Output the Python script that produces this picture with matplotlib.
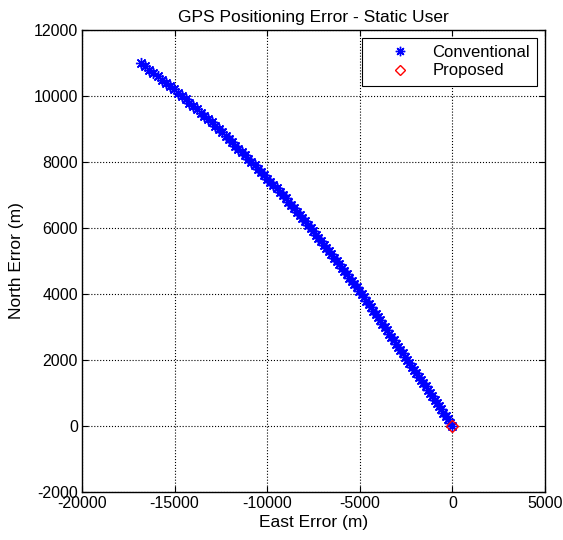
import matplotlib
matplotlib.use('Agg')
import matplotlib.pyplot as plt

plt.rcParams['font.family'] = ['Liberation Sans', 'DejaVu Sans']
plt.rcParams['axes.unicode_minus'] = False

# conventional solution: position error
north_conv = [0, 100, 200, 300, 400, 500, 600, 700, 800, 900,
              1000, 1100, 1200, 1300, 1400, 1500, 1600, 1700, 1800, 1900,
              2000, 2100, 2200, 2300, 2400, 2500, 2600, 2700, 2800, 2900,
              3000, 3100, 3200, 3300, 3400, 3500, 3600, 3700, 3800, 3900,
              4000, 4100, 4200, 4300, 4400, 4500, 4600, 4700, 4800, 4900,
              5000, 5100, 5200, 5300, 5400, 5500, 5600, 5700, 5800, 5900,
              6000, 6100, 6200, 6300, 6400, 6500, 6600, 6700, 6800, 6900,
              7000, 7100, 7200, 7300, 7400, 7500, 7600, 7700, 7800, 7900,
              8000, 8100, 8200, 8300, 8400, 8500, 8600, 8700, 8800, 8900,
              9000, 9100, 9200, 9300, 9400, 9500, 9600, 9700, 9800, 9900,
              10000, 10100, 10200, 10300, 10400, 10500, 10600, 10700, 10800, 10900,
              11000]
east_conv = [0, -120, -240, -360, -480, -600, -720, -840, -960, -1080,
             -1200, -1325, -1450, -1575, -1700, -1825, -1950, -2075, -2200, -2325,
             -2450, -2570, -2690, -2810, -2930, -3050, -3170, -3290, -3410, -3530,
             -3650, -3775, -3900, -4025, -4150, -4275, -4400, -4525, -4650, -4775,
             -4900, -5035, -5170, -5305, -5440, -5575, -5710, -5845, -5980, -6115,
             -6250, -6390, -6530, -6670, -6810, -6950, -7090, -7230, -7370, -7510,
             -7650, -7800, -7950, -8100, -8250, -8400, -8550, -8700, -8850, -9000,
             -9150, -9320, -9490, -9660, -9830, -10000, -10170, -10340, -10510, -10680,
             -10850, -11025, -11200, -11375, -11550, -11725, -11900, -12075, -12250, -12425,
             -12600, -12800, -13000, -13200, -13400, -13600, -13800, -14000, -14200, -14400,
             -14600, -14820, -15040, -15260, -15480, -15700, -15920, -16140, -16360, -16580,
             -16800]

# proposed solution stays at the origin
east_prop = [0]
north_prop = [0]

xticks = [-20000, -15000, -10000, -5000, 0, 5000]
yticks = [-2000, 0, 2000, 4000, 6000, 8000, 10000, 12000]

fig = plt.figure(figsize=(5.63, 5.40), dpi=100)
ax = fig.add_axes([0.1456, 0.0889, 0.8224, 0.8555])

ax.plot(east_conv, north_conv, linestyle='none', marker=(8, 2, 0),
        markersize=8, markeredgewidth=1.0, color='#0000ff', label='Conventional')
ax.plot(east_prop, north_prop, linestyle='none', marker='D', markersize=6.5,
        markerfacecolor='none', markeredgecolor='#ff0000', markeredgewidth=1.0,
        label='Proposed')

ax.set_xlim(-20000, 5000)
ax.set_ylim(-2000, 12000)
ax.set_xticks(xticks)
ax.set_yticks(yticks)
ax.tick_params(direction='in', length=4, top=True, right=True, labelsize=11.5,
               pad=3)
ax.grid(True, linestyle=':', color='black', linewidth=0.8)
for s in ax.spines.values():
    s.set_linewidth(1.0)

ax.set_title('GPS Positioning Error - Static User', fontsize=12.5, pad=6)
ax.set_xlabel('East Error (m)', fontsize=12.5, labelpad=3)
ax.set_ylabel('North Error (m)', fontsize=12.5, labelpad=7)

leg = ax.legend(loc='upper right', fontsize=12, fancybox=False, framealpha=1,
                edgecolor='black', borderaxespad=0.45, handlelength=3.7,
                handletextpad=0.1, borderpad=0.45, labelspacing=0.2,
                markerscale=0.85)
leg.get_frame().set_linewidth(0.8)

fig.savefig('out.png', dpi=100)
